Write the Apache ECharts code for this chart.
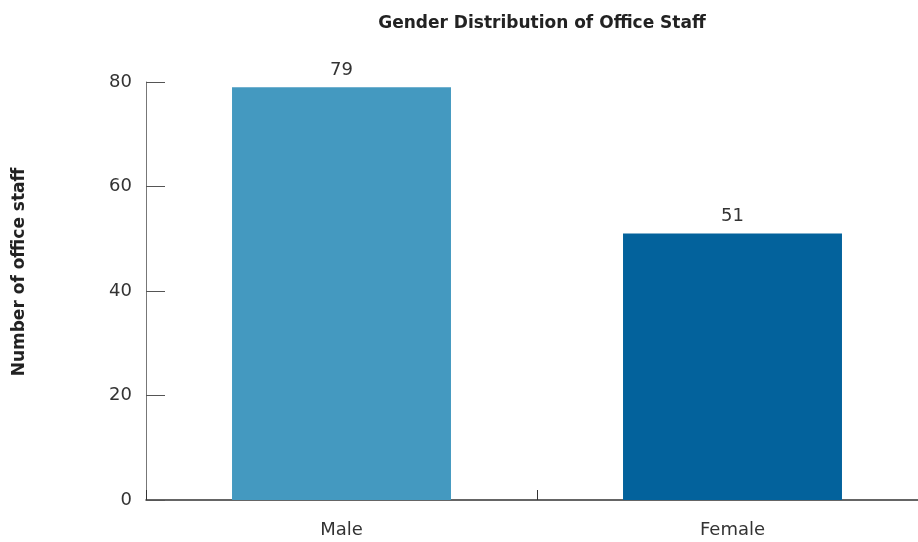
<!DOCTYPE html>
<html><head><meta charset="utf-8">
<script src="https://cdn.jsdelivr.net/npm/echarts@6/dist/echarts.min.js"></script>
<style>html,body{margin:0;padding:0;background:#fff}#c{width:918px;height:542px}</style>
</head><body><div id="c"></div>
<script>
const categories = ['Male', 'Female'];
const values = [79, 51];
const barColors = ['#4499c0', '#03629c'];
const yTicks = [0, 20, 40, 60, 80];

const chart = echarts.init(document.getElementById('c'), null, {renderer: 'canvas'});
const font = '"DejaVu Sans", "Open Sans", sans-serif';
chart.setOption({
  animation: false,
  backgroundColor: '#fff',
  textStyle: {fontFamily: font},
  title: {
    text: 'Gender Distribution of Office Staff',
    left: 537, top: 10, textAlign: 'center',
    textStyle: {fontFamily: font, fontWeight: 'bold', fontSize: 17, color: '#222'}
  },
  graphic: [{
    type: 'text', x: 20, y: 272, rotation: Math.PI / 2,
    style: {text: 'Number of office staff', fontFamily: font, fontWeight: 'bold', fontSize: 17,
      fill: '#222', textAlign: 'center', textVerticalAlign: 'middle'}
  }],
  grid: {left: 146, width: 782, top: 82, bottom: 42, containLabel: false, outerBoundsMode: 'none'},
  xAxis: {
    type: 'category', data: categories,
    axisLine: {lineStyle: {color: '#333', width: 1.5}},
    axisTick: {show: true, inside: true, length: 10, lineStyle: {color: '#333'}},
    axisLabel: {fontFamily: font, fontSize: 18, color: '#333', margin: 21}
  },
  yAxis: {
    type: 'value', min: yTicks[0], max: yTicks[yTicks.length - 1], interval: 20,
    splitLine: {show: false},
    axisLine: {show: true, lineStyle: {color: '#777'}},
    axisTick: {show: true, inside: true, length: 19, lineStyle: {color: '#555'}},
    axisLabel: {fontFamily: font, fontSize: 18, color: '#333', margin: 14}
  },
  series: [{
    type: 'bar',
    data: values.map((v, i) => ({value: v, itemStyle: {color: barColors[i]}})),
    barWidth: '56%',
    label: {show: true, position: 'top', distance: 8, fontFamily: font, fontSize: 18, color: '#333'}
  }]
});
</script></body></html>
